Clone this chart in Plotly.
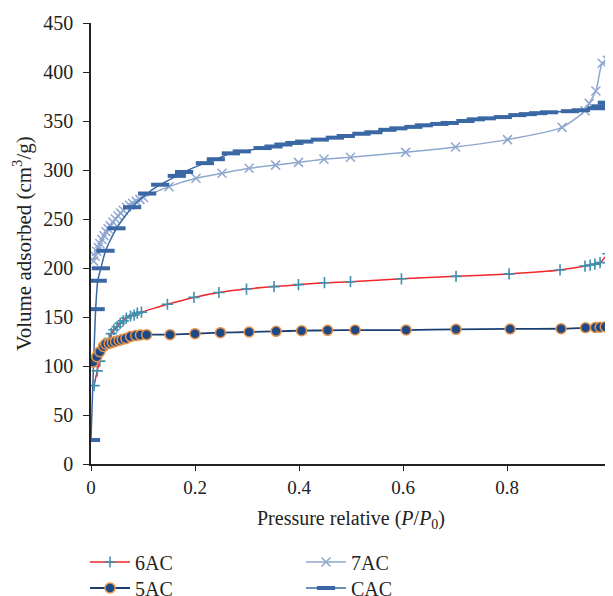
import plotly.graph_objects as go

# 6AC
p_6ac = [0.006, 0.012, 0.017, 0.035, 0.039, 0.044, 0.050, 0.056, 0.062, 0.068, 0.076, 0.083, 0.089, 0.097,
         0.147, 0.198, 0.246, 0.299, 0.352, 0.399, 0.449, 0.499, 0.597, 0.702, 0.804, 0.902, 0.950, 0.960,
         0.969, 0.979, 0.994]
v_6ac = [80, 95, 105, 128, 133, 137, 140, 143.5, 146, 149, 151, 152, 154, 155,
         163, 170, 175, 178.5, 181, 183, 185, 186, 189, 191.5, 194, 198, 202, 203,
         204, 205.5, 214.5]

# 5AC
p_5ac = [0.004, 0.011, 0.017, 0.024, 0.028, 0.035, 0.041, 0.047, 0.054, 0.060, 0.067, 0.076, 0.086, 0.095,
         0.107, 0.152, 0.200, 0.249, 0.304, 0.356, 0.405, 0.455, 0.508, 0.606, 0.702, 0.806, 0.904,
         0.951, 0.970, 0.979, 0.989, 0.999]
v_5ac = [104, 109.5, 114.6, 120, 122.5, 123, 124, 125, 126, 127, 128, 130, 131, 131.6,
         132, 132, 133, 134, 134.7, 135.4, 136, 136.4, 136.7, 136.7, 137.4, 137.8, 138,
         139, 139.3, 139.5, 140, 141]

# 7AC
p_7ac = [0.005, 0.008, 0.011, 0.014, 0.017, 0.021, 0.025, 0.029, 0.033, 0.037, 0.042, 0.047, 0.052,
         0.057, 0.062, 0.068, 0.074, 0.080, 0.087, 0.094, 0.101, 0.150, 0.202, 0.252, 0.304, 0.355,
         0.399, 0.448, 0.499, 0.605, 0.701, 0.801, 0.906, 0.950, 0.958, 0.971, 0.983, 0.993]
v_7ac = [207, 212, 217, 221, 225, 229, 233, 237, 240, 243, 247, 250, 253,
         256, 259, 262, 264, 266, 268, 270, 272, 283, 291.5, 296.6, 301.7, 305,
         307.8, 311, 313, 318, 323.5, 331, 343.5, 360.5, 368, 380.6, 409, 412]

# CAC
p_cac = [0.000, 0.009, 0.013, 0.019, 0.028, 0.049, 0.079, 0.108, 0.133, 0.165, 0.179, 0.219, 0.240,
         0.269, 0.290, 0.330, 0.351, 0.370, 0.391, 0.410, 0.440, 0.469, 0.490, 0.520, 0.543, 0.570,
         0.591, 0.620, 0.640, 0.670, 0.690, 0.720, 0.740, 0.761, 0.792, 0.820, 0.840, 0.860, 0.881,
         0.921, 0.942, 0.972, 0.980, 0.992]
v_cac = [24.5, 158, 187, 199.7, 217.6, 240.5, 262, 276, 285, 294, 298, 307, 311,
         317, 319, 322.4, 324, 326, 327.6, 329, 331, 333, 334.7, 337, 338.5, 341,
         342.5, 344, 345.6, 347, 348, 350, 351.7, 352.7, 354, 356, 357, 358, 358.9,
         360, 361, 363, 365, 368.7]

x_ticks = [0, 0.2, 0.4, 0.6, 0.8, 1]
x_labels = ["0", "0.2", "0.4", "0.6", "0.8", "1"]
y_ticks = [0, 50, 100, 150, 200, 250, 300, 350, 400, 450]

FONT = "Liberation Serif"

fig = go.Figure()

fig.add_trace(go.Scatter(
    x=p_7ac, y=v_7ac, name="7AC", mode="lines+markers", legendrank=2, legend="legend",
    line=dict(color="#8ea7cf", width=1.5, shape="spline", smoothing=0.6),
    marker=dict(symbol="x-thin", size=9, line=dict(color="#8ea7cf", width=1.5)),
))
fig.add_trace(go.Scatter(
    x=p_cac, y=v_cac, name="CAC", mode="lines+markers", legendrank=4, legend="legend2",
    line=dict(color="#3a68a4", width=1.5, shape="spline", smoothing=0.6),
    marker=dict(symbol="line-ew", size=13, line=dict(color="#3a68a4", width=4)),
))
fig.add_trace(go.Scatter(
    x=p_6ac, y=v_6ac, name="6AC", mode="lines+markers", legendrank=1, legend="legend",
    line=dict(color="#f0262a", width=1.5, shape="spline", smoothing=0.6),
    marker=dict(symbol="cross-thin", size=8, line=dict(color="#3f90ae", width=1.6)),
))
fig.add_trace(go.Scatter(
    x=p_5ac, y=v_5ac, name="5AC", mode="lines+markers", legendrank=3, legend="legend2",
    line=dict(color="#1c3f72", width=1.8, shape="spline", smoothing=0.6),
    marker=dict(symbol="circle", size=10, color="#1d4a86", line=dict(color="#e6924a", width=1.5)),
))

leg_common = dict(orientation="h", xanchor="left", yanchor="middle",
                  entrywidth=161, entrywidthmode="pixels", itemwidth=40,
                  font=dict(family=FONT, size=20, color="#222222"), bgcolor="rgba(0,0,0,0)")

fig.update_layout(
    width=605, height=588,
    margin=dict(l=83, r=2, t=15, b=132, autoexpand=False),
    paper_bgcolor="white", plot_bgcolor="white",
    font=dict(family=FONT, size=20, color="#222222"),
    showlegend=True,
    legend=dict(x=-0.0115, y=-0.2222, **leg_common),
    legend2=dict(x=-0.0115, y=-0.2812, **leg_common),
)
fig.update_xaxes(
    range=[0, 1], tickvals=x_ticks, ticktext=x_labels, automargin=False,
    showline=True, linecolor="#222222", linewidth=1.5, ticks="outside", ticklen=5,
    tickcolor="#222222", showgrid=False, zeroline=False,
    title=dict(text="Pressure relative (<i>P</i>/<i>P</i><sub>0</sub>)", standoff=14,
               font=dict(family=FONT, size=20)),
    tickfont=dict(family=FONT, size=19),
)
fig.update_yaxes(
    range=[0, 450], tickvals=y_ticks, automargin=False,
    showline=True, linecolor="#222222", linewidth=1.5, ticks="outside", ticklen=6,
    ticklabelstandoff=6,
    tickcolor="#222222", showgrid=False, zeroline=False,
    title=dict(text="Volume adsorbed (cm<sup>3</sup>/g)", standoff=6,
               font=dict(family=FONT, size=21)),
    tickfont=dict(family=FONT, size=20),
)

fig.write_html("out.html")
